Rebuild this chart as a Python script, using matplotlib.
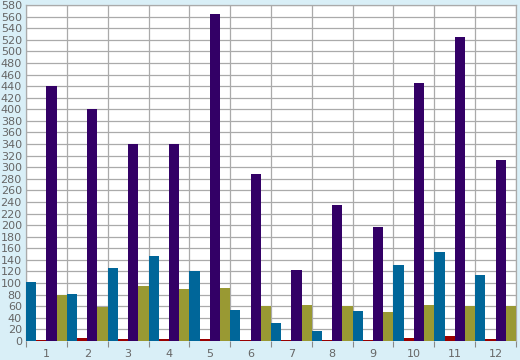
import numpy as np
import matplotlib.pyplot as plt
from matplotlib.ticker import MultipleLocator

categories = ['1', '2', '3', '4', '5', '6', '7', '8', '9', '10', '11', '12']
blue_vals = [102, 81, 126, 147, 121, 53, 31, 17, 51, 131, 154, 114]
red_vals = [1, 6, 4, 3, 3, 1, 1, 1, 1, 5, 8, 3]
purple_vals = [441, 400, 340, 340, 565, 289, 122, 235, 197, 445, 524, 312]
olive_vals = [79, 59, 95, 90, 92, 60, 62, 60, 50, 63, 60, 60]

series = [blue_vals, red_vals, purple_vals, olive_vals]
colors = ['#006699', '#990000', '#330066', '#999933']

bg = '#d9eff7'
grid_c = '#aaaaaa'

fig = plt.figure(figsize=(5.2, 3.6), dpi=100, facecolor=bg)
ax = fig.add_axes([26 / 520, 19 / 360, 490 / 520, 336 / 360])
ax.set_facecolor('white')

x = np.arange(len(categories))
w = 0.25
for i, (vals, c) in enumerate(zip(series, colors)):
    ax.bar(x + w * i, vals, width=w, align='edge', color=c, zorder=3, linewidth=0)

ax.set_xlim(0, len(categories))
ax.set_ylim(0, 580)
ax.yaxis.set_major_locator(MultipleLocator(20))

# category labels in the middle, tick marks at the boundaries
ax.set_xticks(x + 0.5)
ax.set_xticklabels(categories)
ax.set_xticks(np.arange(len(categories) + 1), minor=True)
ax.tick_params(axis='x', which='major', length=0, pad=6, labelsize=8, labelcolor='#666666')
ax.tick_params(axis='x', which='minor', length=4, width=0.8, color='#888888')
ax.tick_params(axis='y', length=0, pad=3, labelsize=8, labelcolor='#666666')

ax.grid(True, axis='y', which='major', color=grid_c, linewidth=0.9, zorder=0)
ax.grid(True, axis='x', which='minor', color=grid_c, linewidth=0.9, zorder=0)

for side in ['left', 'top', 'right']:
    ax.spines[side].set_color(grid_c)
    ax.spines[side].set_linewidth(0.9)
ax.spines['bottom'].set_visible(False)

fig.savefig('out.png', dpi=100, facecolor=bg)
